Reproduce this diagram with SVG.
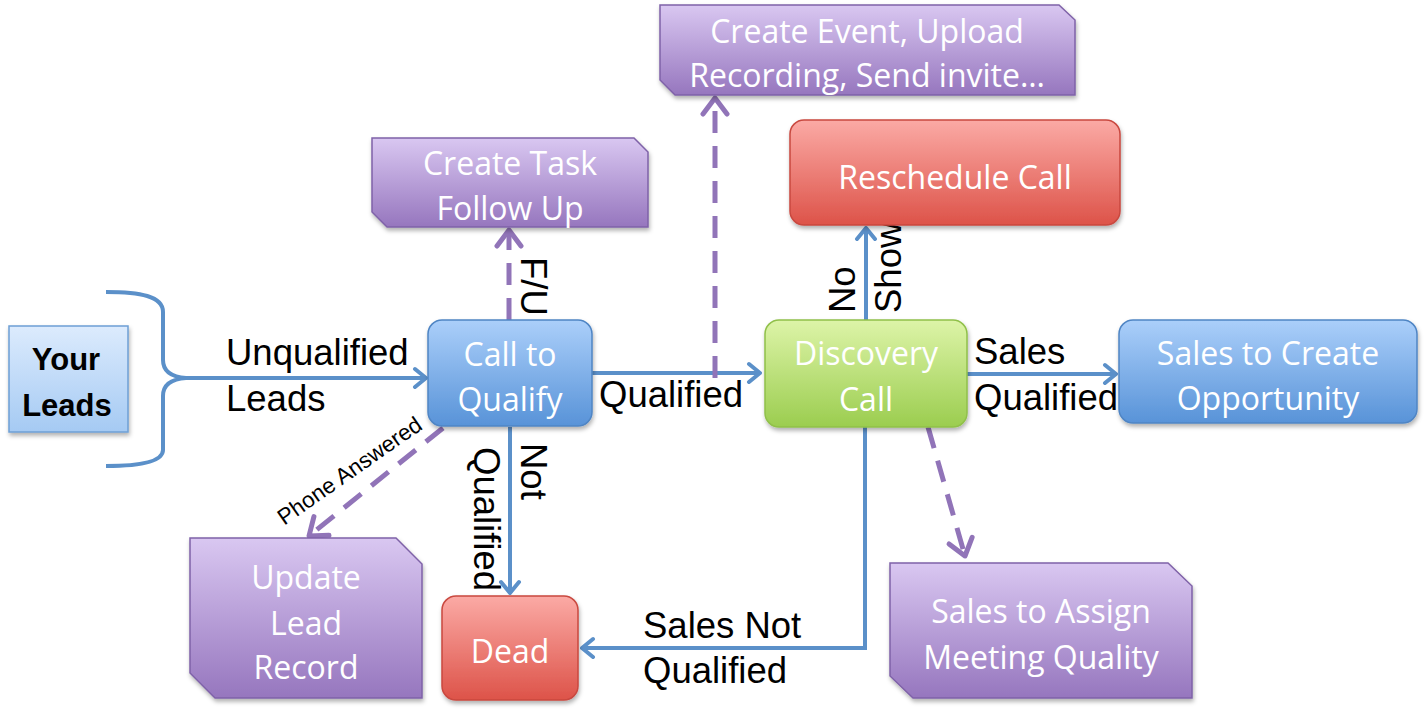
<svg xmlns="http://www.w3.org/2000/svg" width="1425" height="713" viewBox="0 0 1425 713">
<style>
.box{font-family:"Open Sans","Liberation Sans",sans-serif;font-size:32px;fill:#ffffff;text-anchor:middle}
.lbl{font-family:"Liberation Sans",Arial,sans-serif;font-size:36.5px;fill:#000000}
.yl{font-family:"Liberation Sans",Arial,sans-serif;font-weight:bold;font-size:31px;fill:#000000;text-anchor:middle}
.conn{fill:none;stroke:#5b90c9;stroke-width:4}
.dash{fill:none;stroke:#9174b8;stroke-width:5;stroke-dasharray:22 13}
</style>
<defs>
<linearGradient id="gBlue" x1="0" y1="0" x2="0" y2="1"><stop offset="0" stop-color="#abcffa"/><stop offset="1" stop-color="#5893d8"/></linearGradient>
<linearGradient id="gGreen" x1="0" y1="0" x2="0" y2="1"><stop offset="0" stop-color="#ddf4a8"/><stop offset="1" stop-color="#9bcd4f"/></linearGradient>
<linearGradient id="gRed" x1="0" y1="0" x2="0" y2="1"><stop offset="0" stop-color="#fbaaa5"/><stop offset="1" stop-color="#dd5349"/></linearGradient>
<linearGradient id="gPurple" x1="0" y1="0" x2="0" y2="1"><stop offset="0" stop-color="#d9c7f1"/><stop offset="1" stop-color="#9676be"/></linearGradient>
<linearGradient id="gLight" x1="0" y1="0" x2="0" y2="1"><stop offset="0" stop-color="#dcebfd"/><stop offset="1" stop-color="#a5caf3"/></linearGradient>
<filter id="sh" x="-10%" y="-10%" width="120%" height="130%"><feDropShadow dx="1" dy="3" stdDeviation="2" flood-color="#000" flood-opacity="0.3"/></filter>
<marker id="aBlue" viewBox="-14 -12 16 24" refX="0" refY="0" markerWidth="16" markerHeight="24" markerUnits="userSpaceOnUse" orient="auto">
<path d="M-11,-9 L0,0 L-11,9" fill="none" stroke="#5b90c9" stroke-width="4" stroke-linecap="round" stroke-linejoin="round"/>
</marker>
<marker id="aPurple" viewBox="-20 -15 23 30" refX="0" refY="0" markerWidth="23" markerHeight="30" markerUnits="userSpaceOnUse" orient="auto">
<path d="M-16,-12 L0,0 L-16,12" fill="none" stroke="#9174b8" stroke-width="5" stroke-linecap="round" stroke-linejoin="round"/>
</marker>
</defs>

<g id="connectors">
<path class="conn" d="M106,292 C140,292 163,296 163,312 L163,360 C163,372 172,377 186,378 C172,379 163,384 163,396 L163,450 C163,462 140,466 106,466"/>
<path class="conn" d="M186,378 L426,378" marker-end="url(#aBlue)"/>
<path class="conn" d="M592,373 L760,373" marker-end="url(#aBlue)"/>
<path class="conn" d="M967,374 L1116,374" marker-end="url(#aBlue)"/>
<path class="conn" d="M866,320 L866,228" marker-end="url(#aBlue)"/>
<path class="conn" d="M510,427 L510,593" marker-end="url(#aBlue)"/>
<path class="conn" d="M865,427 L865,648 L582,648" marker-end="url(#aBlue)"/>
<path class="dash" d="M509,320 L509,230" marker-end="url(#aPurple)"/>
<path class="dash" d="M715,378 L715,98" marker-end="url(#aPurple)"/>
<path class="dash" d="M443,428 L309,536" marker-end="url(#aPurple)"/>
<path class="dash" d="M928,427 L965,556" marker-end="url(#aPurple)"/>
<text class="lbl" x="226" y="365">Unqualified</text>
<text class="lbl" x="226" y="411">Leads</text>
<text class="lbl" x="599" y="407">Qualified</text>
<text class="lbl" x="974" y="364">Sales</text>
<text class="lbl" x="974" y="410">Qualified</text>
<text class="lbl" x="643" y="638">Sales Not</text>
<text class="lbl" x="643" y="683">Qualified</text>
<text class="lbl" transform="translate(855,313) rotate(-90)">No</text>
<text class="lbl" transform="translate(901,313) rotate(-90)">Show</text>
<text class="lbl" transform="translate(521,443) rotate(90)">Not</text>
<text class="lbl" transform="translate(474,447) rotate(90)">Qualified</text>
<text class="lbl" transform="translate(521,257) rotate(90)">F/U</text>
<text class="lbl" style="font-size:22.5px" text-anchor="middle" transform="translate(354,477) rotate(-35)">Phone Answered</text>
</g>

<g id="your-leads">
<rect x="9" y="326" width="119" height="106" fill="url(#gLight)" stroke="#6e9fd5" stroke-width="1.5" filter="url(#sh)"/>
<text class="yl" x="66" y="370">Your</text>
<text class="yl" x="67" y="416">Leads</text>
</g>

<g id="call-to-qualify">
<rect x="428" y="320" width="164" height="106" rx="14" fill="url(#gBlue)" stroke="#4f85c4" stroke-width="1.5" filter="url(#sh)"/>
<text class="box" x="510" y="366">Call to</text>
<text class="box" x="510" y="411">Qualify</text>
</g>

<g id="discovery-call">
<rect x="765" y="320" width="202" height="107" rx="14" fill="url(#gGreen)" stroke="#90c04a" stroke-width="1.5" filter="url(#sh)"/>
<text class="box" x="866" y="365">Discovery</text>
<text class="box" x="866" y="411">Call</text>
</g>

<g id="sales-create-opportunity">
<rect x="1119" y="320" width="298" height="103" rx="14" fill="url(#gBlue)" stroke="#4f85c4" stroke-width="1.5" filter="url(#sh)"/>
<text class="box" x="1268" y="365">Sales to Create</text>
<text class="box" x="1268" y="410">Opportunity</text>
</g>

<g id="reschedule-call">
<rect x="790" y="120" width="330" height="105" rx="14" fill="url(#gRed)" stroke="#c9483f" stroke-width="1.5" filter="url(#sh)"/>
<text class="box" x="955" y="189">Reschedule Call</text>
</g>

<g id="dead">
<rect x="442" y="596" width="136" height="104" rx="14" fill="url(#gRed)" stroke="#c9483f" stroke-width="1.5" filter="url(#sh)"/>
<text class="box" x="510" y="663">Dead</text>
</g>

<g id="create-task">
<path d="M372,138 L634,138 L648,152 L648,227 L387,227 L372,212 Z" fill="url(#gPurple)" stroke="#7f62a8" stroke-width="1.5" filter="url(#sh)"/>
<text class="box" x="510" y="175">Create Task</text>
<text class="box" x="510" y="220">Follow Up</text>
</g>

<g id="create-event">
<path d="M660,5 L1059,5 L1075,20 L1075,95 L675,95 L660,80 Z" fill="url(#gPurple)" stroke="#7f62a8" stroke-width="1.5" filter="url(#sh)"/>
<text class="box" x="867" y="43">Create Event, Upload</text>
<text class="box" x="867" y="87">Recording, Send invite…</text>
</g>

<g id="update-lead-record">
<path d="M190,538 L396,538 L422,564 L422,698 L215,698 L190,673 Z" fill="url(#gPurple)" stroke="#7f62a8" stroke-width="1.5" filter="url(#sh)"/>
<text class="box" x="306" y="589">Update</text>
<text class="box" x="306" y="635">Lead</text>
<text class="box" x="306" y="679">Record</text>
</g>

<g id="sales-assign-quality">
<path d="M890,563 L1168,563 L1192,586 L1192,698 L913,698 L890,676 Z" fill="url(#gPurple)" stroke="#7f62a8" stroke-width="1.5" filter="url(#sh)"/>
<text class="box" x="1041" y="623">Sales to Assign</text>
<text class="box" x="1041" y="669">Meeting Quality</text>
</g>
</svg>
